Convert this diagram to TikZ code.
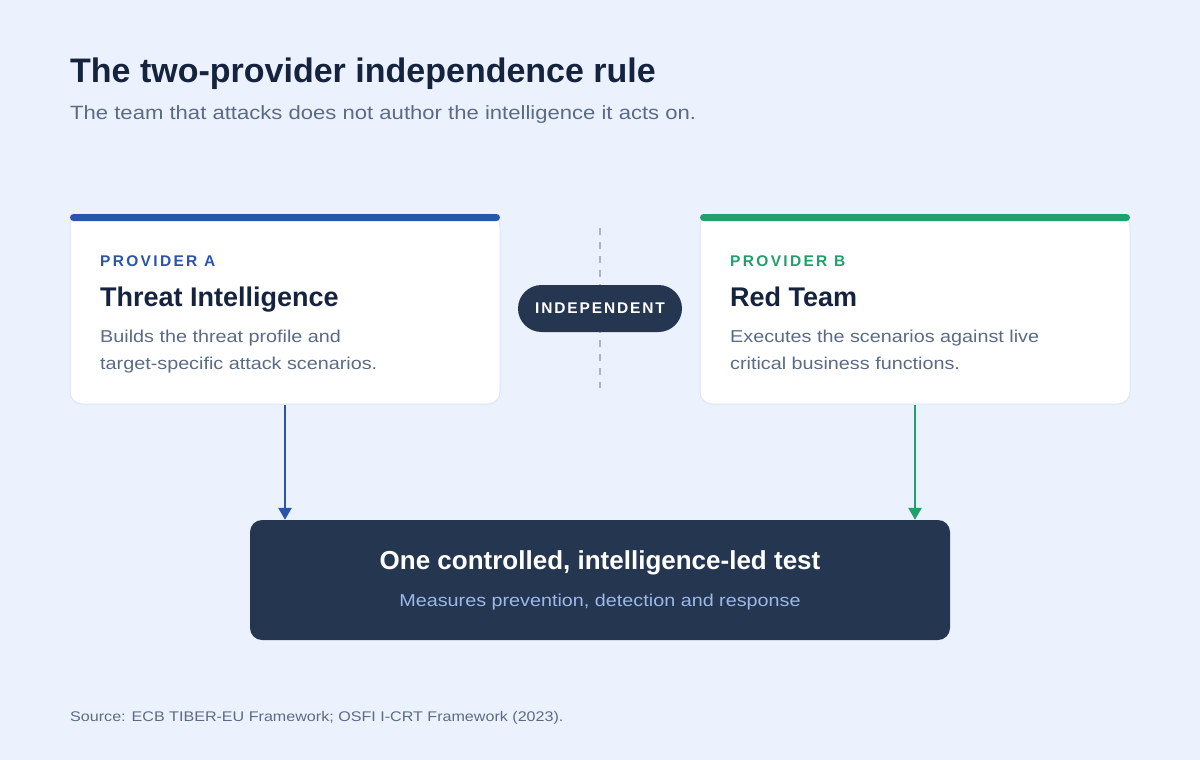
\documentclass[tikz,border=0pt]{standalone}
\usepackage{fontspec}
\setmainfont{Liberation Sans}
\newfontfamily\wide{Liberation Sans}[FakeStretch=1.15]
\usetikzlibrary{arrows.meta}
\definecolor{bg}{HTML}{EBF2FE}
\definecolor{navy}{HTML}{15233F}
\definecolor{slate}{HTML}{5B6B85}
\definecolor{blueA}{HTML}{2B55AA}
\definecolor{greenB}{HTML}{21A06C}
\definecolor{dark}{HTML}{253651}
\definecolor{lightsub}{HTML}{9DB8E8}
\definecolor{cardline}{HTML}{DCE6F5}
\definecolor{dashgray}{HTML}{A9B4C6}
\tikzset{
  card/.style={draw=cardline, line width=1pt, fill=white, rounded corners=12pt, minimum width=430pt, minimum height=190pt, inner sep=0pt},
  txt/.style={anchor=base west, inner sep=0pt},
  ctxt/.style={anchor=base, inner sep=0pt},
  conn/.style={line width=2.6pt, -{Triangle[width=13pt,length=12pt]}},
  bodytxt/.style={txt, text=slate, font=\wide\fontsize{17.2}{20}\selectfont},
  headtxt/.style={txt, text=navy, font=\fontsize{27}{31}\selectfont\bfseries},
  provtxt/.style={txt, font=\fontsize{15.5}{18}\selectfont\bfseries\addfontfeature{LetterSpace=15}},
}
\begin{document}
\begin{tikzpicture}[x=1pt,y=-1pt]
\fill[bg] (0,0) rectangle (1200,760);
\useasboundingbox (0,0) rectangle (1200,760);
% title
\node[txt, text=navy, font=\fontsize{34}{38}\selectfont\bfseries] (title) at (70,82) {The two-provider independence rule};
\node[txt, text=slate, font=\wide\fontsize{19.2}{23}\selectfont] (subtitle) at (70,119) {The team that attacks does not author the intelligence it acts on.};
% dashed divider
\coordinate (dtop) at (600,228);
\coordinate (dbot) at (600,388);
\draw[dashgray, line width=2.6pt, dash pattern=on 7pt off 7pt] (dtop) -- (dbot);
% cards
\node[card] (cardA) at (285,309) {};
\fill[blueA, rounded corners=3.5pt] (70,214) rectangle (500,221);
\node[card] (cardB) at (915,309) {};
\fill[greenB, rounded corners=3.5pt] (700,214) rectangle (1130,221);
% card A text
\node[provtxt, text=blueA] (provA) at (100,266) {PROVIDER A};
\node[headtxt] (headA) at (100,306) {Threat Intelligence};
\node[bodytxt] (bodyA1) at (100,342) {Builds the threat profile and};
\node[bodytxt] (bodyA2) at (100,369) {target-specific attack scenarios.};
% card B text
\node[provtxt, text=greenB] (provB) at (730,266) {PROVIDER B};
\node[headtxt] (headB) at (730,306) {Red Team};
\node[bodytxt] (bodyB1) at (730,342) {Executes the scenarios against live};
\node[bodytxt] (bodyB2) at (730,369) {critical business functions.};
% pill
\node[fill=dark, rounded corners=23.5pt, minimum width=164pt, minimum height=47pt, inner sep=0pt, text=white, font=\fontsize{15.5}{18}\selectfont\bfseries\addfontfeature{LetterSpace=12}] (pill) at (600,308.5) {INDEPENDENT};
% bottom box
\node[fill=dark, rounded corners=12pt, minimum width=700pt, minimum height=120pt, inner sep=0pt] (test) at (600,580) {};
\node[ctxt, text=white, font=\fontsize{26}{30}\selectfont\bfseries] (testhead) at (600,569) {One controlled, intelligence-led test};
\node[ctxt, text=lightsub, font=\wide\fontsize{17.2}{20}\selectfont] (testsub) at (600,606) {Measures prevention, detection and response};
% connectors
\draw[conn, blueA] (cardA.south) -- (cardA.south |- test.north);
\draw[conn, greenB] (cardB.south) -- (cardB.south |- test.north);
% source
\node[txt, text=slate, font=\wide\fontsize{14}{17}\selectfont] (source) at (70,721) {Source: ECB TIBER-EU Framework; OSFI I-CRT Framework (2023).};
\end{tikzpicture}
\end{document}
